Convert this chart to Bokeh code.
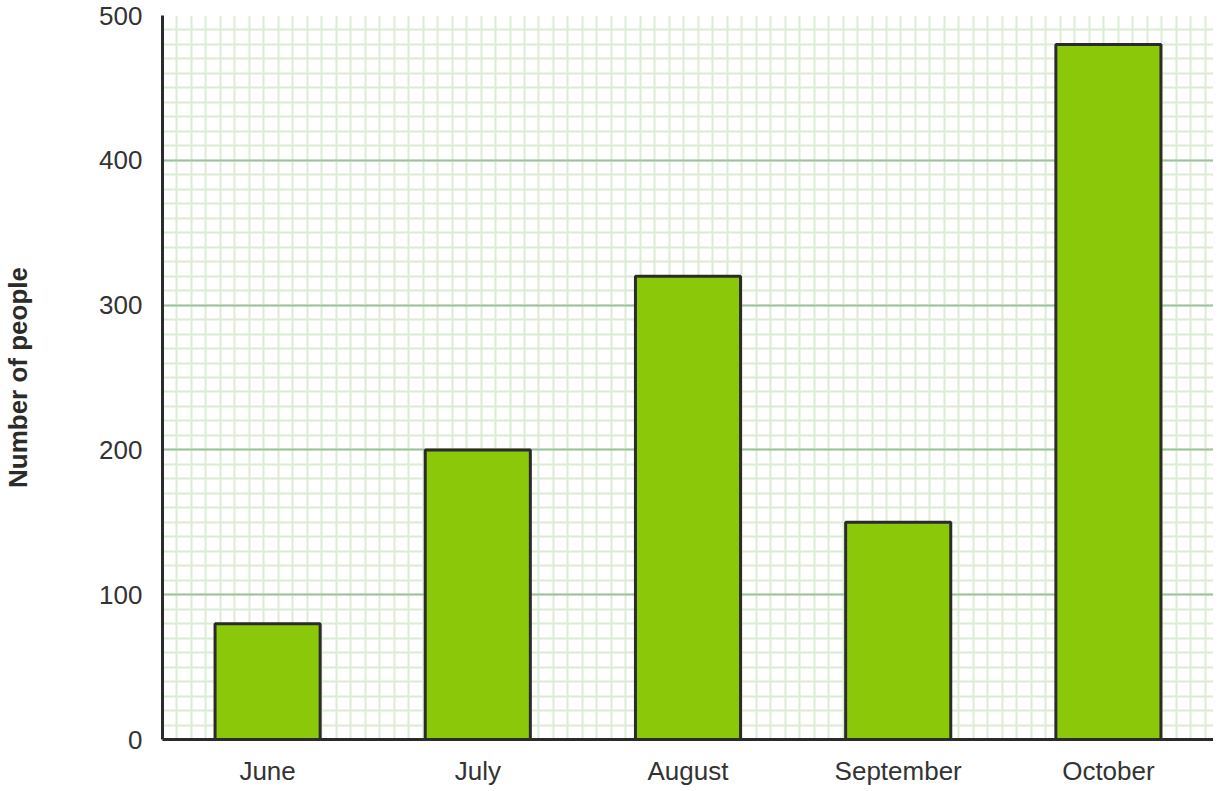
import numpy as np
from bokeh.plotting import figure
from bokeh.models import Range1d, FixedTicker, Grid, ColumnDataSource
from bokeh.embed import file_html
from bokeh.resources import INLINE

months = ["June", "July", "August", "September", "October"]
people = [80, 200, 320, 150, 480]
y_ticks = [0, 100, 200, 300, 400, 500]

FRAME_W = 1051
FRAME_H = 724
FONT = "Liberation Sans"
TEXT = "#333333"

x_pos = [i + 0.5 for i in range(len(months))]
src = ColumnDataSource(dict(x=x_pos, top=people, month=months))

p = figure(
    frame_width=FRAME_W, frame_height=FRAME_H,
    x_range=Range1d(0, len(months)), y_range=Range1d(0, 500),
    output_backend="svg", toolbar_location=None,
    min_border_left=158, min_border_top=15, min_border_right=0, min_border_bottom=0,
)
p.outline_line_color = None
p.background_fill_color = "white"

# grids
p.xgrid.visible = False
p.ygrid.ticker = FixedTicker(ticks=y_ticks, minor_ticks=list(np.arange(0, 501, 10)))
p.ygrid.grid_line_color = "#9dc49c"
p.ygrid.grid_line_width = 2
p.ygrid.minor_grid_line_color = "#dcebd3"
p.ygrid.minor_grid_line_width = 2
p.ygrid.level = "underlay"

dx = 10 * (FRAME_H / 500) / (FRAME_W / len(months))
vgrid = Grid(dimension=0, ticker=FixedTicker(ticks=list(np.arange(dx, len(months), dx))),
             grid_line_color="#dcebd3", grid_line_width=2, level="underlay")
p.center.insert(0, vgrid)

p.vbar(x="x", top="top", width=0.5, bottom=0, source=src,
       fill_color="#8bc80a", line_color="#2b2b2b", line_width=3)

# axes
p.xaxis.ticker = FixedTicker(ticks=x_pos)
p.xaxis.major_label_overrides = {x: m for x, m in zip(x_pos, months)}
p.yaxis.ticker = FixedTicker(ticks=y_ticks)
for ax in (p.xaxis[0], p.yaxis[0]):
    ax.axis_line_color = "#2b2b2b"
    ax.axis_line_width = 3
    ax.major_tick_line_color = None
    ax.minor_tick_line_color = None
    ax.major_tick_in = 0
    ax.major_tick_out = 0
    ax.major_label_text_font = FONT
    ax.major_label_text_font_size = "26px"
    ax.major_label_text_color = TEXT
p.xaxis.major_label_standoff = 16
p.yaxis.major_label_standoff = 20
p.yaxis.axis_label = "Number of people"
p.yaxis.axis_label_text_font = FONT
p.yaxis.axis_label_text_font_size = "26px"
p.yaxis.axis_label_text_font_style = "bold"
p.yaxis.axis_label_text_color = "#2b2b2b"
p.yaxis.axis_label_standoff = 63

open("out.html", "w").write(file_html(p, INLINE))
